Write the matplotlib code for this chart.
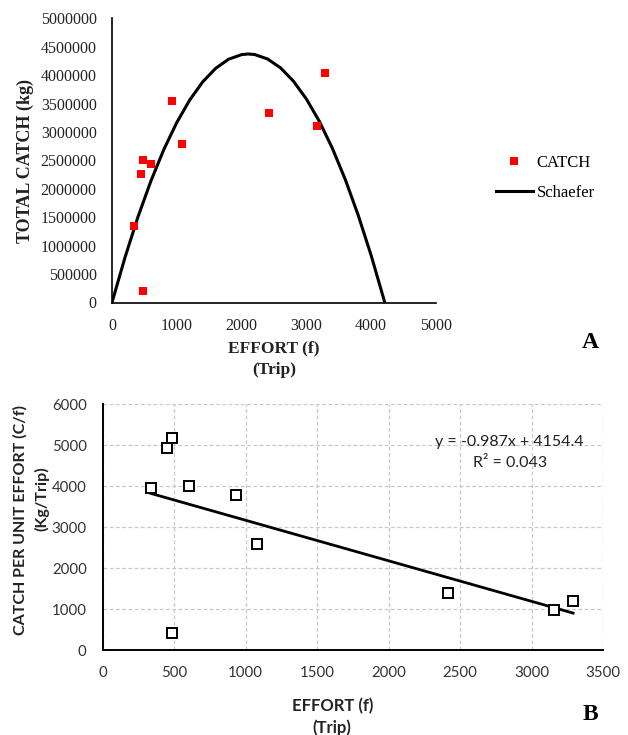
import matplotlib
matplotlib.use("Agg")
import matplotlib.pyplot as plt
from matplotlib.ticker import FuncFormatter

# ---------------- data ----------------
effort = [337, 453, 482, 603, 482, 933, 1076, 2416, 3158, 3291]
catch = [1340000, 2266000, 2507000, 2437000, 208000, 3552000, 2790000, 3335000, 3110000, 4040000]
cpue = [3965, 4925, 5180, 4005, 425, 3779, 2579, 1387, 975, 1208]

schaefer_f = [0, 200, 400, 600, 800, 1000, 1200, 1400, 1600, 1800, 2000, 2100,
              2200, 2400, 2600, 2800, 3000, 3200, 3400, 3600, 3800, 4000, 4200, 4209]
schaefer_c = [0, 791000, 1504000, 2137000, 2692000, 3167000, 3564000, 3882000,
              4120000, 4280000, 4361000, 4372000, 4363000, 4285000, 4129000,
              3894000, 3580000, 3187000, 2715000, 2164000, 1534000, 826000, 38000, 0]

slope = -0.987
intercept = 4154.4
eq_text = "y = -0.987x + 4154.4"
r2_text = "R\u00b2 = 0.043"

xticks_a = [0, 1000, 2000, 3000, 4000, 5000]
yticks_a = [0, 500000, 1000000, 1500000, 2000000, 2500000, 3000000, 3500000,
            4000000, 4500000, 5000000]
xticks_b = [0, 500, 1000, 1500, 2000, 2500, 3000, 3500]
yticks_b = [0, 1000, 2000, 3000, 4000, 5000, 6000]

W, H = 628, 735
fig = plt.figure(figsize=(W / 100, H / 100), dpi=100)

def fx(px):
    return px / W

def fy(py):
    return 1 - py / H

serif = "Liberation Serif"
sans = "Lato"

# ---------------- panel A ----------------
ax1 = fig.add_axes([fx(112), fy(302.5), 324 / W, 284.2 / H])
ax1.plot(schaefer_f, schaefer_c, color="black", lw=2.2, solid_joinstyle="round",
         label="Schaefer", zorder=2)
ax1.plot(effort, catch, linestyle="none", marker="s", markersize=5.6,
         color="#ff0000", markeredgewidth=0, label="CATCH", zorder=3)
ax1.set_xlim(0, 5000)
ax1.set_ylim(0, 5000000)
ax1.set_xticks(xticks_a)
ax1.set_yticks(yticks_a)
ax1.xaxis.set_major_formatter(FuncFormatter(lambda v, p: f"{int(v)}"))
ax1.yaxis.set_major_formatter(FuncFormatter(lambda v, p: f"{int(v)}"))
for s in ["top", "right"]:
    ax1.spines[s].set_visible(False)
for s in ["left", "bottom"]:
    ax1.spines[s].set_linewidth(1.2)
ax1.tick_params(length=0, pad=11)
for lab in ax1.get_xticklabels() + ax1.get_yticklabels():
    lab.set_fontfamily(serif)
    lab.set_fontsize(11.5)
    lab.set_color("#222222")

fig.text(fx(25), fy(161), "TOTAL CATCH (kg)", rotation=90, ha="center", va="center",
         fontfamily=serif, fontweight="bold", fontsize=13, color="#222222")
fig.text(fx(274), fy(348), "EFFORT (f)", ha="center", va="center",
         fontfamily=serif, fontweight="bold", fontsize=12.5, color="#222222")
fig.text(fx(274), fy(370), "(Trip)", ha="center", va="center",
         fontfamily=serif, fontweight="bold", fontsize=12.5, color="#222222")
fig.text(fx(590), fy(343), "A", ha="center", va="center",
         fontfamily=serif, fontweight="bold", fontsize=17, color="black")

h, l = ax1.get_legend_handles_labels()
order = [1, 0]
fig.legend([h[i] for i in order], [l[i] for i in order], loc="upper left",
           bbox_to_anchor=(fx(496), fy(155)), frameon=False, borderpad=0,
           borderaxespad=0, handlelength=2.2, handletextpad=0.25, labelspacing=0.85,
           prop={"family": serif, "size": 12})

# ---------------- panel B ----------------
ax2 = fig.add_axes([fx(102.7), fy(650.3), 500.3 / W, 246.3 / H])
ax2.set_xlim(0, 3500)
ax2.set_ylim(0, 6000)
ax2.set_xticks(xticks_b)
ax2.set_yticks(yticks_b)
ax2.grid(True, color="#c8c8c8", linestyle=(0, (3, 2)), linewidth=0.9)
ax2.set_axisbelow(True)
ax2.plot(effort, cpue, linestyle="none", marker="s", markersize=7.2,
         markerfacecolor="white", markeredgecolor="black", markeredgewidth=1.4, zorder=3)
x0, x1 = min(effort), max(effort)
ax2.plot([x0, x1], [slope * x0 + intercept, slope * x1 + intercept],
         color="black", lw=2.0, zorder=2)
for s in ["top", "right"]:
    ax2.spines[s].set_visible(False)
for s in ["left", "bottom"]:
    ax2.spines[s].set_linewidth(1.4)
ax2.tick_params(length=0, pad=11.5)
for lab in ax2.get_xticklabels() + ax2.get_yticklabels():
    lab.set_fontfamily(sans)
    lab.set_fontsize(10.8)
    lab.set_color("#333333")

ax2.text(fx(509), fy(442), eq_text, transform=fig.transFigure, ha="center", va="center",
         fontfamily=sans, fontsize=11.5, color="#222222")
ax2.text(fx(510), fy(463), r2_text, transform=fig.transFigure, ha="center", va="center",
         fontfamily=sans, fontsize=11.5, color="#222222")

fig.text(fx(20), fy(520), "CATCH PER UNIT EFFORT (C/f)", rotation=90, ha="center",
         va="center", fontfamily=sans, fontweight="bold", fontsize=11.5, color="#222222")
fig.text(fx(42), fy(499), "(Kg/Trip)", rotation=90, ha="center", va="center",
         fontfamily=sans, fontweight="bold", fontsize=11.5, color="#222222")
fig.text(fx(333), fy(706), "EFFORT (f)", ha="center", va="center",
         fontfamily=sans, fontweight="bold", fontsize=12, color="#222222")
fig.text(fx(332), fy(728), "(Trip)", ha="center", va="center",
         fontfamily=sans, fontweight="bold", fontsize=12, color="#222222")
fig.text(fx(590), fy(715), "B", ha="center", va="center",
         fontfamily=serif, fontweight="bold", fontsize=17, color="black")

fig.savefig("out.png", dpi=100)
